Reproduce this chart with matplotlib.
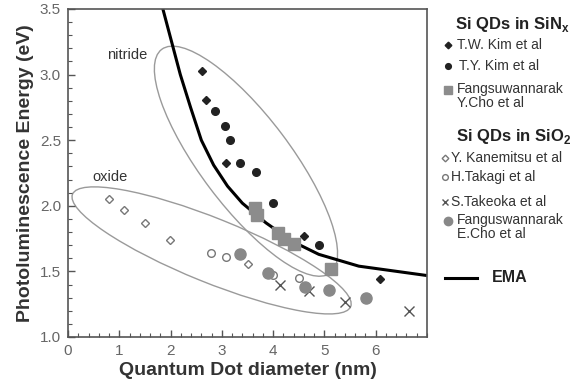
import matplotlib
matplotlib.use("Agg")
import matplotlib.pyplot as plt
from matplotlib.patches import Ellipse
from matplotlib.lines import Line2D
from matplotlib.ticker import MultipleLocator, FormatStrFormatter
import matplotlib.transforms as mtransforms

plt.rcParams["font.family"] = ["Liberation Sans", "DejaVu Sans"]
plt.rcParams["mathtext.fontset"] = "custom"
plt.rcParams["mathtext.rm"] = "Liberation Sans"
plt.rcParams["mathtext.bf"] = "Liberation Sans:bold"

# --- data (diameter nm, energy eV) ---
tw_kim_d = [2.61, 2.69, 3.08, 4.60, 6.09]
tw_kim_e = [3.03, 2.81, 2.33, 1.77, 1.44]

ty_kim_d = [2.87, 3.07, 3.15, 3.35, 3.67, 3.99, 4.89]
ty_kim_e = [2.72, 2.61, 2.50, 2.33, 2.26, 2.02, 1.70]

ycho_d = [3.64, 3.68, 4.10, 4.22, 4.41, 5.12]
ycho_e = [1.98, 1.93, 1.79, 1.75, 1.71, 1.52]

kanemitsu_d = [0.80, 1.09, 1.51, 1.99, 3.50]
kanemitsu_e = [2.05, 1.97, 1.87, 1.74, 1.56]

takagi_d = [2.79, 3.09, 3.99, 4.50]
takagi_e = [1.64, 1.61, 1.47, 1.45]

takeoka_d = [4.14, 4.70, 5.41, 6.65]
takeoka_e = [1.40, 1.35, 1.27, 1.20]

echo_d = [3.36, 3.90, 4.63, 5.09, 5.82]
echo_e = [1.63, 1.49, 1.38, 1.36, 1.30]

ema_d = [1.79, 1.85, 2.02, 2.19, 2.39, 2.60, 2.84, 3.11, 3.40, 3.86, 4.37,
         4.89, 5.67, 6.97]
ema_e = [3.59, 3.50, 3.25, 3.00, 2.75, 2.50, 2.31, 2.15, 2.02, 1.87, 1.73,
         1.63, 1.54, 1.47]

styles = {
    "tw":   dict(marker="D", ms=4.5, color="#222222", mec="#222222", ls="none"),
    "ty":   dict(marker="o", ms=5.5, color="#222222", mec="#222222", ls="none"),
    "ycho": dict(marker="s", ms=8.5, color="#8c8c8c", mec="#8c8c8c", ls="none"),
    "kan":  dict(marker="D", ms=4.5, mfc="white", mec="#777777", mew=1.0, ls="none"),
    "tak":  dict(marker="o", ms=5.5, mfc="white", mec="#777777", mew=1.0, ls="none"),
    "tko":  dict(marker="x", ms=6.5, color="#555555", mew=1.0, ls="none"),
    "echo": dict(marker="o", ms=8, color="#888888", mec="#888888", ls="none"),
}

fig = plt.figure(figsize=(5.74, 3.86), dpi=100)
ax = fig.add_axes([68 / 574, 1 - 337 / 386, 359 / 574, 328 / 386])

# ellipses grouping nitride / oxide, sized in inches around a data centre
def group_ellipse(cx, cy, w, h, ang):
    tr = fig.dpi_scale_trans + mtransforms.ScaledTranslation(cx, cy, ax.transData)
    ax.add_patch(Ellipse((0, 0), w, h, angle=ang, transform=tr, fill=False,
                         ec="#9a9a9a", lw=1.0, zorder=1))

group_ellipse(3.47, 2.34, 2.80, 0.90, -53)
group_ellipse(2.80, 1.66, 3.00, 0.64, -22)

ax.plot(ema_d, ema_e, color="black", lw=2.2, zorder=2)

ax.plot(tw_kim_d, tw_kim_e, zorder=3, **styles["tw"])
ax.plot(ty_kim_d, ty_kim_e, zorder=3, **styles["ty"])
ax.plot(ycho_d, ycho_e, zorder=3, **styles["ycho"])
ax.plot(kanemitsu_d, kanemitsu_e, zorder=3, **styles["kan"])
ax.plot(takagi_d, takagi_e, zorder=3, **styles["tak"])
ax.plot(takeoka_d, takeoka_e, zorder=3, **styles["tko"])
ax.plot(echo_d, echo_e, zorder=3, **styles["echo"])

ax.text(0.76, 3.12, "nitride", fontsize=10.5, color="#333333")
ax.text(0.48, 2.19, "oxide", fontsize=10.5, color="#333333")

ax.set_xlim(0, 7)
ax.set_ylim(1.0, 3.5)
ax.set_xticks([0, 1, 2, 3, 4, 5, 6])
ax.xaxis.set_minor_locator(MultipleLocator(0.2))
ax.yaxis.set_major_locator(MultipleLocator(0.5))
ax.yaxis.set_minor_locator(MultipleLocator(0.1))
ax.yaxis.set_major_formatter(FormatStrFormatter("%.1f"))
ax.tick_params(which="both", direction="in", colors="#555555", labelsize=11,
               labelcolor="#666666")
ax.tick_params(which="major", length=5, width=1, pad=5)
ax.tick_params(which="minor", length=3, width=0.8)
for s in ax.spines.values():
    s.set_color("#555555")
    s.set_linewidth(1.2)

ax.set_xlabel("Quantum Dot diameter (nm)", fontsize=14, fontweight="bold",
              color="#333333", labelpad=3)
ax.set_ylabel("Photoluminescence Energy (eV)", fontsize=14, fontweight="bold",
              color="#333333", labelpad=4)

# --- legend at the right, placed in figure pixels ---
def fx(px):
    return px / 574

def fy(py):
    return 1 - py / 386

def legend_mark(key, px, py):
    st = dict(styles[key])
    st["ms"] = st["ms"] * 0.75
    fig.add_artist(Line2D([fx(px)], [fy(py)], transform=fig.transFigure, **st))

entry_font = ["Liberation Sans Narrow", "Liberation Sans", "DejaVu Sans"]

fig.text(fx(512), fy(25), r"Si QDs in SiN$_\mathbf{x}$", fontsize=12,
         fontweight="bold", ha="center", va="center", color="#222222")
entries_n = [("tw", "T.W. Kim et al", 45, 457), ("ty", "T.Y. Kim et al", 66, 459),
             ("ycho", "Fangsuwannarak\nY.Cho et al", 96, 457)]
for key, label, py, tx in entries_n:
    legend_mark(key, 448, py if "\n" not in label else py - 6)
    fig.text(fx(tx), fy(py), label, fontsize=10, family=entry_font, ha="left",
             va="center", color="#333333", linespacing=0.95)

fig.text(fx(514), fy(137), r"Si QDs in SiO$_\mathbf{2}$", fontsize=12,
         fontweight="bold", ha="center", va="center", color="#222222")
entries_o = [("kan", "Y. Kanemitsu et al", 158, 451), ("tak", "H.Takagi et al", 177, 451),
             ("tko", "S.Takeoka et al", 202, 451),
             ("echo", "Fanguswannarak\nE.Cho et al", 227, 457)]
for key, label, py, tx in entries_o:
    legend_mark(key, 445 if key != "echo" else 448, py if "\n" not in label else py - 6)
    fig.text(fx(tx), fy(py), label, fontsize=10, family=entry_font, ha="left",
             va="center", color="#333333", linespacing=0.95)

fig.add_artist(Line2D([fx(445), fx(477)], [fy(278), fy(278)], transform=fig.transFigure,
                      color="black", lw=2.2))
fig.text(fx(492), fy(278), "EMA", fontsize=11.5, fontweight="bold", ha="left",
         va="center", color="#222222")

fig.savefig("out.png", dpi=100)
